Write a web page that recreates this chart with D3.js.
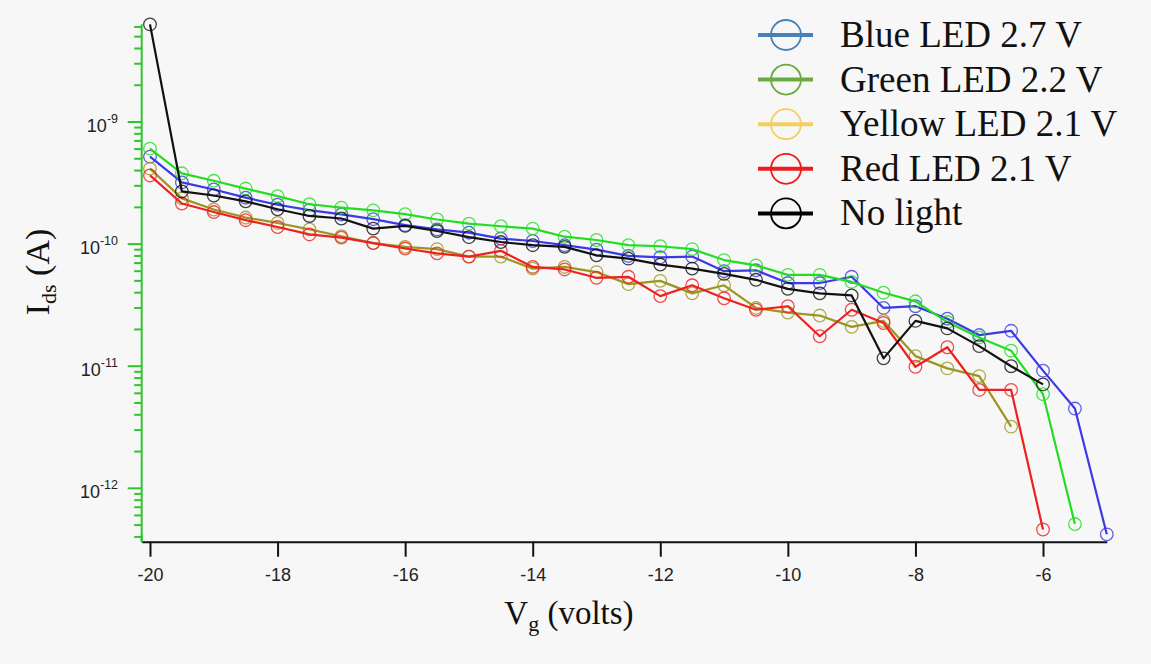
<!DOCTYPE html>
<html>
<head>
<meta charset="utf-8">
<script src="https://cdn.jsdelivr.net/npm/d3@7"></script>
<style>
  html, body { margin: 0; padding: 0; background: #f7f7f7; }
  svg { display: block; }
</style>
</head>
<body>
<svg id="chart" width="1151" height="664"></svg>
<script>
// ---- data ----
const vg = [-20, -19.5, -19, -18.5, -18, -17.5, -17, -16.5, -16, -15.5, -15, -14.5, -14, -13.5, -13,
            -12.5, -12, -11.5, -11, -10.5, -10, -9.5, -9, -8.5, -8, -7.5, -7, -6.5, -6, -5.5, -5];

const blueLED = [5.2e-10, 3.2e-10, 2.8e-10, 2.4e-10, 2.1e-10, 1.9e-10, 1.75e-10, 1.6e-10, 1.43e-10, 1.32e-10,
                 1.24e-10, 1.11e-10, 1.06e-10, 9.8e-11, 9.0e-11, 8.0e-11, 7.8e-11, 7.9e-11, 6.0e-11, 6.1e-11,
                 4.8e-11, 4.8e-11, 5.4e-11, 3.0e-11, 3.1e-11, 2.45e-11, 1.8e-11, 1.95e-11, 9.2e-12, 4.5e-12, 4.2e-13];
const greenLED = [6.05e-10, 3.8e-10, 3.3e-10, 2.85e-10, 2.47e-10, 2.12e-10, 1.99e-10, 1.89e-10, 1.76e-10, 1.59e-10,
                  1.47e-10, 1.40e-10, 1.34e-10, 1.15e-10, 1.08e-10, 9.8e-11, 9.6e-11, 9.1e-11, 7.4e-11, 6.7e-11,
                  5.6e-11, 5.6e-11, 4.9e-11, 4.0e-11, 3.4e-11, 2.3e-11, 1.72e-11, 1.34e-11, 5.9e-12, 5.1e-13];
const yellowLED = [4.15e-10, 2.37e-10, 1.92e-10, 1.65e-10, 1.49e-10, 1.32e-10, 1.16e-10, 1.02e-10, 9.5e-11, 9.1e-11,
                   7.9e-11, 7.9e-11, 6.3e-11, 6.5e-11, 5.9e-11, 4.7e-11, 5.0e-11, 3.95e-11, 4.6e-11, 3.0e-11,
                   2.75e-11, 2.6e-11, 2.1e-11, 2.35e-11, 1.21e-11, 9.6e-12, 8.3e-12, 3.2e-12];
const redLED = [3.65e-10, 2.15e-10, 1.83e-10, 1.57e-10, 1.38e-10, 1.20e-10, 1.13e-10, 1.02e-10, 9.2e-11, 8.4e-11,
                7.9e-11, 8.8e-11, 6.5e-11, 6.2e-11, 5.3e-11, 5.4e-11, 3.75e-11, 4.6e-11, 3.6e-11, 2.9e-11,
                3.1e-11, 1.76e-11, 2.9e-11, 2.26e-11, 9.9e-12, 1.43e-11, 6.4e-12, 6.4e-12, 4.6e-13];
const noLight = [6.3e-9, 2.7e-10, 2.5e-10, 2.24e-10, 1.93e-10, 1.70e-10, 1.62e-10, 1.34e-10, 1.41e-10, 1.28e-10,
                 1.14e-10, 1.04e-10, 9.8e-11, 9.5e-11, 8.1e-11, 7.6e-11, 6.8e-11, 6.3e-11, 5.7e-11, 5.1e-11,
                 4.3e-11, 3.95e-11, 3.8e-11, 1.16e-11, 2.35e-11, 2.04e-11, 1.46e-11, 1.0e-11, 7.1e-12];

const seriesNames = ["Blue LED 2.7 V", "Green LED 2.2 V", "Yellow LED 2.1 V", "Red LED 2.1 V", "No light"];
const seriesValues = [blueLED, greenLED, yellowLED, redLED, noLight];
const lineColors = ["#3a3ae6", "#22dd22", "#9c9620", "#ee2020", "#111111"];
const legendColors = ["#4a80b8", "#6aab3f", "#f4cf5e", "#ee1c1c", "#000000"];

const xTicks = [-20, -18, -16, -14, -12, -10, -8, -6];
const yDecades = [-12, -11, -10, -9];

// ---- layout ----
const svg = d3.select("#chart");
svg.append("rect").attr("width", 1151).attr("height", 664).attr("fill", "#f7f7f7");

const x = d3.scaleLinear().domain([-20.13, -5]).range([141.7, 1106.8]);
const y = d3.scaleLog().domain([Math.pow(10, -12.437), Math.pow(10, -8.2)]).range([541.7, 24.3]);

const axisGreen = "#2ec42e";

// Y axis (green, log) with major & minor ticks
const yMinor = [];
for (let e = -13; e <= -9; e++) {
  for (let m = 1; m <= 9; m++) {
    const v = m * Math.pow(10, e);
    if (v >= y.domain()[0] && v <= y.domain()[1]) yMinor.push(v);
  }
}
const yAxisG = svg.append("g").attr("transform", "translate(141.7,0)");
yAxisG.call(d3.axisLeft(y).tickValues(yMinor).tickFormat("")
  .tickSize(0).tickSizeOuter(0))
  .call(g => g.select(".domain").remove());
yAxisG.append("line").attr("x1", 0).attr("x2", 0)
  .attr("y1", y.range()[1]).attr("y2", y.range()[0])
  .attr("stroke", axisGreen).attr("stroke-width", 2);
yAxisG.selectAll("line.minor").data(yMinor).enter().append("line")
  .attr("class", "minor")
  .attr("x1", d => (Math.abs(Math.log10(d) - Math.round(Math.log10(d))) < 1e-9) ? -14 : -7.5)
  .attr("x2", 0)
  .attr("y1", d => y(d)).attr("y2", d => y(d))
  .attr("stroke", axisGreen).attr("stroke-width", 2);

// y tick labels 10^n
const yl = svg.append("g");
yDecades.forEach(e => {
  const t = yl.append("text")
    .attr("x", 118).attr("y", y(Math.pow(10, e)) + 10)
    .attr("text-anchor", "end")
    .attr("font-family", "Liberation Sans, Arial, sans-serif")
    .attr("font-size", 18).attr("fill", "#222");
  t.append("tspan").text("10");
  t.append("tspan").attr("font-size", 12.5).attr("dy", -9).text("-" + Math.abs(e));
});

// X axis (black)
const xAxisG = svg.append("g").attr("transform", "translate(0,541.7)");
xAxisG.call(d3.axisBottom(x).tickValues(xTicks).tickSize(15).tickSizeOuter(0).tickFormat(d => d))
  .call(g => g.select(".domain").attr("stroke", "#111").attr("stroke-width", 2))
  .call(g => g.selectAll(".tick line").attr("stroke", "#111").attr("stroke-width", 2))
  .call(g => g.selectAll(".tick text")
      .attr("y", 27).attr("dy", "0.71em")
      .attr("font-family", "Liberation Sans, Arial, sans-serif")
      .attr("font-size", 18).attr("fill", "#222")
      .text(d => "-" + Math.abs(d)));
// green corner piece where axes meet
svg.append("line").attr("x1", 141.7).attr("x2", 141.7).attr("y1", 536).attr("y2", 542.5)
  .attr("stroke", axisGreen).attr("stroke-width", 2);

// axis titles
const xt = svg.append("text")
  .attr("x", 569).attr("y", 624).attr("text-anchor", "middle")
  .attr("font-family", "Liberation Serif, Times New Roman, serif")
  .attr("font-size", 33).attr("fill", "#111");
xt.append("tspan").text("V");
xt.append("tspan").attr("font-size", 22).attr("dy", 7).text("g");
xt.append("tspan").attr("dy", -7).text(" (volts)");

const yt = svg.append("text")
  .attr("transform", "translate(49,272) rotate(-90)")
  .attr("text-anchor", "middle")
  .attr("font-family", "Liberation Serif, Times New Roman, serif")
  .attr("font-size", 34).attr("fill", "#111");
yt.append("tspan").text("I");
yt.append("tspan").attr("font-size", 22).attr("dy", 7).text("ds");
yt.append("tspan").attr("dy", -7).text(" (A)");

// series
const line = d3.line().x(d => x(d[0])).y(d => y(d[1]));
seriesValues.forEach((vals, i) => {
  const pts = vals.map((v, j) => [vg[j], v]);
  const g = svg.append("g");
  g.append("path").datum(pts).attr("d", line)
    .attr("fill", "none").attr("stroke", lineColors[i]).attr("stroke-width", 2.2)
    .attr("stroke-linejoin", "round");
  g.selectAll("circle").data(pts).enter().append("circle")
    .attr("cx", d => x(d[0])).attr("cy", d => y(d[1])).attr("r", 6.3)
    .attr("fill", "none").attr("stroke", lineColors[i]).attr("stroke-width", 1.3)
    .attr("stroke-opacity", 0.8);
});

// legend
const lg = svg.append("g");
seriesNames.forEach((name, i) => {
  const cy = 35 + i * 44.6;
  lg.append("line").attr("x1", 758).attr("x2", 813).attr("y1", cy).attr("y2", cy)
    .attr("stroke", legendColors[i]).attr("stroke-width", 4);
  lg.append("circle").attr("cx", 786).attr("cy", cy).attr("r", 15)
    .attr("fill", "none").attr("stroke", legendColors[i]).attr("stroke-width", 1.8);
  lg.append("text").attr("x", 840).attr("y", cy + 12)
    .attr("font-family", "Liberation Serif, Times New Roman, serif")
    .attr("font-size", 37).attr("fill", "#111").text(name);
});
</script>
</body>
</html>
